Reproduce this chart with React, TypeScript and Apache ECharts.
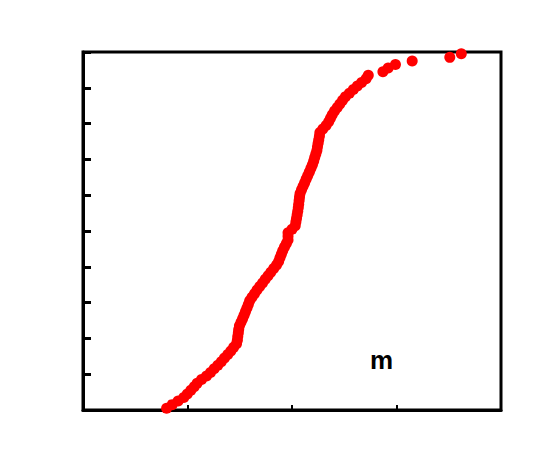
import React, { useEffect, useRef } from "react";
import * as echarts from "echarts";

// Cumulative fraction (y) values, one per plotted point
const yValues: number[] = [
  0.005, 0.015, 0.025, 0.035, 0.045, 0.055, 0.065, 0.075, 0.085, 0.095,
  0.105, 0.115, 0.125, 0.135, 0.145, 0.155, 0.165, 0.175, 0.185, 0.195,
  0.205, 0.215, 0.225, 0.235, 0.245, 0.255, 0.265, 0.275, 0.285, 0.295,
  0.305, 0.315, 0.325, 0.335, 0.345, 0.355, 0.365, 0.375, 0.385, 0.395,
  0.405, 0.415, 0.425, 0.435, 0.445, 0.455, 0.465, 0.475, 0.485, 0.495,
  0.505, 0.515, 0.525, 0.535, 0.545, 0.555, 0.565, 0.575, 0.585, 0.595,
  0.605, 0.615, 0.625, 0.635, 0.645, 0.655, 0.665, 0.675, 0.685, 0.695,
  0.705, 0.715, 0.725, 0.735, 0.745, 0.755, 0.765, 0.775, 0.785, 0.795,
  0.805, 0.815, 0.825, 0.835, 0.845, 0.855, 0.865, 0.875, 0.885, 0.895,
  0.905, 0.915, 0.925, 0.935, 0.945, 0.955, 0.965, 0.975, 0.985, 0.995,
];

// Sorted x values
const xValues: number[] = [
  0.8, 0.853, 0.91, 0.964, 0.998, 1.032, 1.064, 1.092, 1.134, 1.182,
  1.22, 1.255, 1.29, 1.323, 1.354, 1.385, 1.415, 1.442, 1.469, 1.477,
  1.481, 1.486, 1.49, 1.497, 1.512, 1.527, 1.541, 1.555, 1.569, 1.582,
  1.595, 1.617, 1.641, 1.665, 1.691, 1.718, 1.744, 1.771, 1.797, 1.825,
  1.852, 1.872, 1.885, 1.898, 1.911, 1.928, 1.946, 1.962, 1.962, 1.962,
  2.0, 2.031, 2.037, 2.043, 2.049, 2.055, 2.06, 2.064, 2.068, 2.072,
  2.077, 2.091, 2.106, 2.121, 2.136, 2.151, 2.166, 2.181, 2.195, 2.207,
  2.217, 2.228, 2.238, 2.244, 2.25, 2.256, 2.262, 2.267, 2.295, 2.326,
  2.351, 2.368, 2.385, 2.407, 2.433, 2.458, 2.484, 2.511, 2.549, 2.587,
  2.625, 2.666, 2.709, 2.73, 2.87, 2.92, 2.99, 3.15, 3.51, 3.62,
];

const panelLabel = "m";

export default function App() {
  const ref = useRef<HTMLDivElement>(null);

  useEffect(() => {
    if (!ref.current) return;
    const chart = echarts.init(ref.current, null, { renderer: "svg" });
    const data = xValues.map((x, i) => [x, yValues[i]]);
    chart.setOption({
      animation: false,
      backgroundColor: "#ffffff",
      grid: {
        left: 83,
        top: 52,
        right: 47,
        bottom: 50,
        show: true,
        borderColor: "#000",
        borderWidth: 3,
        backgroundColor: "transparent",
      },
      xAxis: {
        type: "value",
        min: 0,
        max: 4,
        interval: 1,
        axisLine: { show: true, lineStyle: { color: "#000", width: 3 } },
        axisTick: { show: true, inside: true, length: 5, lineStyle: { color: "#000", width: 2 } },
        axisLabel: { show: false },
        splitLine: { show: false },
      },
      yAxis: {
        type: "value",
        min: 0,
        max: 1,
        interval: 0.1,
        axisLine: { show: true, lineStyle: { color: "#000", width: 3 } },
        axisTick: { show: true, inside: true, length: 8, lineStyle: { color: "#000", width: 3 } },
        axisLabel: { show: false },
        splitLine: { show: false },
      },
      series: [
        {
          type: "scatter",
          data,
          symbol: "circle",
          symbolSize: 11,
          clip: false,
          itemStyle: { color: "#ff0000", opacity: 1 },
          z: 5,
        },
      ],
      graphic: [
        {
          type: "text",
          left: 370,
          top: 347,
          style: {
            text: panelLabel,
            fontFamily: "Liberation Sans, Arial, sans-serif",
            fontWeight: "bold",
            fontSize: 26,
            fill: "#000",
          },
        },
      ],
    });
    return () => chart.dispose();
  }, []);

  return (
    <div
      ref={ref}
      style={{ position: "fixed", left: 0, top: 0, width: 548, height: 460, background: "#fff" }}
    />
  );
}
